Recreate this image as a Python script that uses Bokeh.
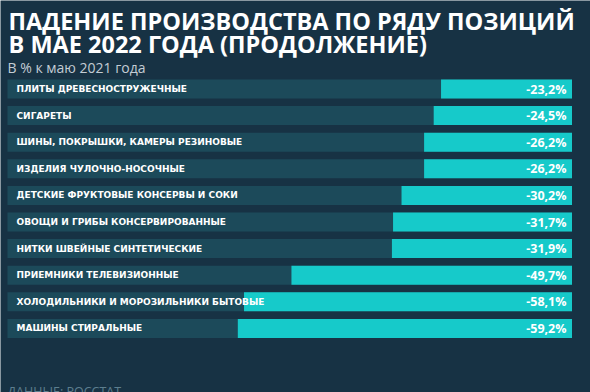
from bokeh.plotting import figure
from bokeh.models import Range1d, Label, ColumnDataSource
from bokeh.embed import file_html
from bokeh.resources import INLINE
from bokeh.core.properties import value

title_lines = ["ПАДЕНИЕ ПРОИЗВОДСТВА ПО РЯДУ ПОЗИЦИЙ", "В МАЕ 2022 ГОДА (ПРОДОЛЖЕНИЕ)"]
subtitle = "В % к маю 2021 года"
source_note = "ДАННЫЕ: РОССТАТ"
categories = [
    "ПЛИТЫ ДРЕВЕСНОСТРУЖЕЧНЫЕ",
    "СИГАРЕТЫ",
    "ШИНЫ, ПОКРЫШКИ, КАМЕРЫ РЕЗИНОВЫЕ",
    "ИЗДЕЛИЯ ЧУЛОЧНО-НОСОЧНЫЕ",
    "ДЕТСКИЕ ФРУКТОВЫЕ КОНСЕРВЫ И СОКИ",
    "ОВОЩИ И ГРИБЫ КОНСЕРВИРОВАННЫЕ",
    "НИТКИ ШВЕЙНЫЕ СИНТЕТИЧЕСКИЕ",
    "ПРИЕМНИКИ ТЕЛЕВИЗИОННЫЕ",
    "ХОЛОДИЛЬНИКИ И МОРОЗИЛЬНИКИ БЫТОВЫЕ",
    "МАШИНЫ СТИРАЛЬНЫЕ",
]
values = [-23.2, -24.5, -26.2, -26.2, -30.2, -31.7, -31.9, -49.7, -58.1, -59.2]
value_labels = [f"{v:.1f}".replace(".", ",") + "%" for v in values]

BG = "#173244"
TRACK = "#1c4a5a"
BAR = "#16caca"

W, H = 590, 392
pitch = 26.6
row0 = 88.5
x_left_px, x_zero_px = 7.0, 571.5
scale = (x_zero_px - x_left_px) / 100.0
x_start = -100 - x_left_px / scale
x_end = (W - x_zero_px) / scale


def row(px):
    return (px - row0) / pitch


def xval(px):
    return x_start + px / scale


p = figure(width=W, height=H, output_backend="svg", toolbar_location=None,
           x_range=Range1d(x_start, x_end),
           y_range=Range1d(row(H), row(0)),
           min_border=0)
p.background_fill_color = BG
p.border_fill_color = BG
p.outline_line_color = None
p.axis.visible = False
p.grid.visible = False

idx = list(range(len(categories)))
src = ColumnDataSource(dict(y=idx, v=values, cat=categories, lab=value_labels,
                            track=[-100] * len(idx), zero=[0] * len(idx)))

p.hbar(y="y", left="track", right="zero", height=19 / pitch, source=src,
       fill_color=TRACK, line_color=None)
p.hbar(y="y", left="v", right="zero", height=19 / pitch, source=src,
       fill_color=BAR, line_color=None)

p.text(x=xval(16), y="y", text="cat", source=src,
       text_font=value("DejaVu Sans"), text_font_style="bold",
       text_font_size="9px", text_color="white",
       text_baseline="middle", text_align="left")
p.text(x=xval(566), y="y", text="lab", source=src,
       text_font=value("Open Sans"), text_font_style="bold",
       text_font_size="12.5px", text_color="white",
       text_baseline="middle", text_align="right")

for line, base in zip(title_lines, [20.5, 43.5]):
    p.add_layout(Label(x=8, y=row(base), x_units="screen", text=line,
                       text_font="Open Sans", text_font_style="bold",
                       text_font_size="23.5px", text_color="white",
                       text_baseline="alphabetic", text_align="left"))

p.add_layout(Label(x=7, y=row(66.5), x_units="screen", text=subtitle,
                   text_font="Open Sans", text_font_size="14px",
                   text_color="#c3ccd4", text_baseline="alphabetic",
                   text_align="left"))
p.add_layout(Label(x=7, y=row(382), x_units="screen", text=source_note,
                   text_font="Open Sans", text_font_size="12.5px",
                   text_color="#5d7e8e", text_baseline="top",
                   text_align="left"))

open("out.html", "w").write(file_html(p, INLINE))
